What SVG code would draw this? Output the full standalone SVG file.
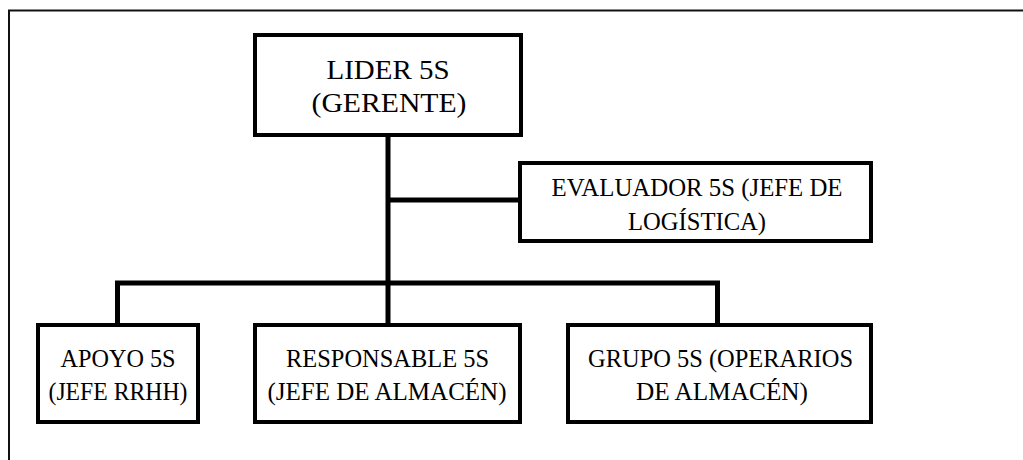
<svg xmlns="http://www.w3.org/2000/svg" width="1023" height="460" viewBox="0 0 1023 460">
<style>
.box{fill:#fff;stroke:#000;stroke-width:4}
.c{fill:none;stroke:#000;stroke-width:5;stroke-linejoin:miter}
</style>
<rect width="1023" height="460" fill="#fff"/>
<path d="M9,460 V10.5 H1023" fill="none" stroke="#111" stroke-width="2"/>
<g id="connectors">
<path class="c" d="M388,137 V323"/>
<path class="c" d="M388,200 H518"/>
<path class="c" d="M117.5,323 V283 H717.5 V323"/>
</g>
<g font-family="Liberation Serif, DejaVu Serif, serif" font-size="26" text-anchor="middle" fill="#000">
<g id="lider">
<rect class="box" x="255" y="35" width="266" height="100"/>
<text font-size="28" x="388" y="79" textLength="123" lengthAdjust="spacingAndGlyphs">LIDER 5S</text>
<text font-size="28" x="389" y="112" textLength="155" lengthAdjust="spacingAndGlyphs">(GERENTE)</text>
</g>
<g id="evaluador">
<rect class="box" x="520" y="163" width="351" height="78"/>
<text x="697" y="196" textLength="291" lengthAdjust="spacingAndGlyphs">EVALUADOR 5S (JEFE DE</text>
<text x="697" y="230" textLength="138" lengthAdjust="spacingAndGlyphs">LOGÍSTICA)</text>
</g>
<g id="apoyo">
<rect class="box" x="38" y="325" width="160" height="97"/>
<text x="118" y="367" textLength="115" lengthAdjust="spacingAndGlyphs">APOYO 5S</text>
<text x="118" y="400" textLength="139" lengthAdjust="spacingAndGlyphs">(JEFE RRHH)</text>
</g>
<g id="responsable">
<rect class="box" x="255" y="325" width="265" height="97"/>
<text x="387.5" y="367" textLength="203" lengthAdjust="spacingAndGlyphs">RESPONSABLE 5S</text>
<text x="387" y="400" textLength="239" lengthAdjust="spacingAndGlyphs">(JEFE DE ALMACÉN)</text>
</g>
<g id="grupo">
<rect class="box" x="568" y="325" width="303" height="97"/>
<text x="720.5" y="367" textLength="265" lengthAdjust="spacingAndGlyphs">GRUPO 5S (OPERARIOS</text>
<text x="722" y="400" textLength="172" lengthAdjust="spacingAndGlyphs">DE ALMACÉN)</text>
</g>
</g>
</svg>
